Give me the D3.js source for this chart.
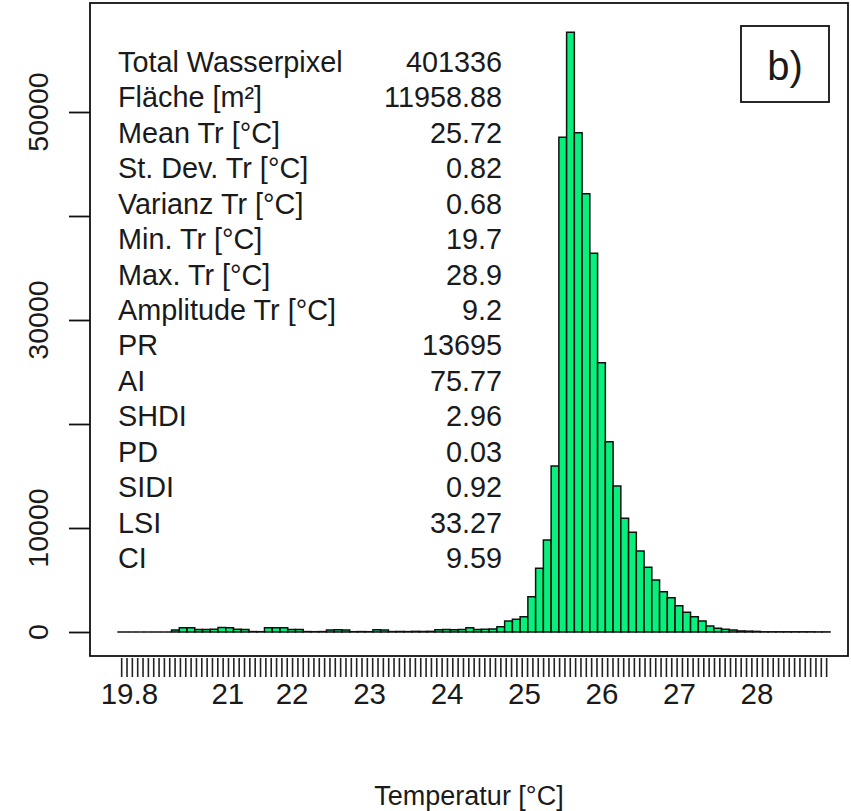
<!DOCTYPE html>
<meta charset="utf-8">
<head>
  <title>Histogram Temperatur</title>
  <script src="https://d3js.org/d3.v7.min.js"></script>
  <style>
    body { margin: 0; background: #fff; }
    svg { display: block; font-family: "Liberation Sans", Arial, sans-serif; }
  </style>
</head>
<body>
<div id="chart"></div>
<script>

// bin starts [°C], 0.1 wide
var binStart = [
  19.8, 19.9, 20.0, 20.1, 20.2, 20.3, 20.4, 20.5, 20.6, 20.7,
  20.8, 20.9, 21.0, 21.1, 21.2, 21.3, 21.4, 21.5, 21.6, 21.7,
  21.8, 21.9, 22.0, 22.1, 22.2, 22.3, 22.4, 22.5, 22.6, 22.7,
  22.8, 22.9, 23.0, 23.1, 23.2, 23.3, 23.4, 23.5, 23.6, 23.7,
  23.8, 23.9, 24.0, 24.1, 24.2, 24.3, 24.4, 24.5, 24.6, 24.7,
  24.8, 24.9, 25.0, 25.1, 25.2, 25.3, 25.4, 25.5, 25.6, 25.7,
  25.8, 25.9, 26.0, 26.1, 26.2, 26.3, 26.4, 26.5, 26.6, 26.7,
  26.8, 26.9, 27.0, 27.1, 27.2, 27.3, 27.4, 27.5, 27.6, 27.7,
  27.8, 27.9, 28.0, 28.1, 28.2, 28.3, 28.4, 28.5, 28.6, 28.7,
  28.8, 28.9
];

// pixel counts per bin
var counts = [
  0, 0, 0, 0, 0, 0, 0, 200, 420, 410,
  250, 240, 260, 430, 420, 260, 250, 40, 30, 400,
  420, 410, 250, 240, 40, 30, 40, 200, 210, 190,
  30, 40, 30, 210, 200, 40, 50, 40, 60, 50,
  60, 220, 230, 220, 240, 420, 250, 260, 300, 510,
  1060, 1220, 1470, 3400, 6130, 8850, 15960, 47570, 57660, 48010,
  42150, 36410, 25900, 18300, 14040, 10930, 9590, 7790, 6220, 5000,
  3880, 3300, 2530, 1890, 1470, 1060, 580, 350, 260, 200,
  100, 80, 60, 20, 20, 20, 20, 20, 20, 20,
  10, 10
];

var yTicks = [0, 10000, 20000, 30000, 40000, 50000];
var yLabels = ["0", "10000", "", "30000", "", "50000"];

var xLabels = ["19.8", "21", "22", "23", "24", "25", "26", "27", "28"];
var xLabelAt = [19.95, 21.22, 22.05, 23.05, 24.05, 25.05, 26.05, 27.05, 28.05];

var statNames = ["Total Wasserpixel", "Fläche [m²]", "Mean Tr [°C]", "St. Dev. Tr [°C]",
  "Varianz Tr [°C]", "Min. Tr [°C]", "Max. Tr [°C]", "Amplitude Tr [°C]",
  "PR", "AI", "SHDI", "PD", "SIDI", "LSI", "CI"];
var statValues = ["401336", "11958.88", "25.72", "0.82", "0.68", "19.7", "28.9", "9.2",
  "13695", "75.77", "2.96", "0.03", "0.92", "33.27", "9.59"];

var W = 851, H = 811;
var box = {left: 90, top: 3, right: 848, bottom: 656};

var svg = d3.select("#chart").append("svg")
  .attr("width", W)
  .attr("height", H);

var x = d3.scaleLinear().domain([19.8, 29.0]).range([117.3, 830]);
var y = d3.scaleLinear().domain([0, 50000]).range([632, 112]);

// bars (paths so that empty bins still show as a line)
svg.selectAll("path.bar")
  .data(binStart)
  .enter()
  .append("path")
    .attr("class", "bar")
    .attr("d", function(d, i) {
      var x0 = x(d), x1 = x(d + 0.1), y0 = y(0), y1 = y(counts[i]);
      return "M" + x0 + "," + y0 + "V" + y1 + "H" + x1 + "V" + y0 + "Z";
    })
    .attr("fill", "#08f07c")
    .attr("stroke", "#111")
    .attr("stroke-width", 1.5);

// frame
svg.append("rect")
  .attr("x", box.left)
  .attr("y", box.top)
  .attr("width", box.right - box.left)
  .attr("height", box.bottom - box.top)
  .attr("fill", "none")
  .attr("stroke", "#111")
  .attr("stroke-width", 1.8);

// y axis
var yAxis = svg.append("g")
  .attr("transform", "translate(" + box.left + ",0)")
  .call(d3.axisLeft(y).tickValues(yTicks).tickSize(21).tickFormat(""));
yAxis.select(".domain").remove();
yAxis.selectAll(".tick line").attr("stroke", "#111").attr("stroke-width", 1.8);

svg.selectAll("text.ylab")
  .data(yTicks)
  .enter()
  .append("text")
    .attr("class", "ylab")
    .attr("transform", function(d) { return "translate(48," + y(d) + ") rotate(-90)"; })
    .attr("text-anchor", "middle")
    .attr("font-size", 28.5)
    .attr("fill", "#1a1a1a")
    .text(function(d, i) { return yLabels[i]; });

// x axis: dense ticks below the frame
var minorTicks = d3.range(133).map(function(k) { return 19.85 + k * (28.95 - 19.85) / 132; });
var xAxis = svg.append("g")
  .attr("transform", "translate(0," + (box.bottom + 2) + ")")
  .call(d3.axisBottom(x).tickValues(minorTicks).tickSize(19).tickFormat(""));
xAxis.select(".domain").remove();
xAxis.selectAll(".tick line").attr("stroke", "#222").attr("stroke-width", 1.6);

var xLab = svg.append("g")
  .attr("transform", "translate(0,704)")
  .call(d3.axisBottom(x).tickValues(xLabelAt).tickSize(0)
    .tickFormat(function(d, i) { return xLabels[i]; }));
xLab.select(".domain").remove();
xLab.selectAll("text")
  .attr("y", 0)
  .attr("dy", 0)
  .attr("font-size", 29.5)
  .attr("font-family", "Liberation Sans, Arial, sans-serif")
  .attr("fill", "#1a1a1a");

// x title
svg.append("text")
  .attr("x", (box.left + box.right) / 2)
  .attr("y", 805)
  .attr("text-anchor", "middle")
  .attr("font-size", 27)
  .attr("fill", "#1a1a1a")
  .text("Temperatur [°C]");

// statistics table
var rowY = d3.scaleLinear().domain([0, 14]).range([72, 568]);
svg.selectAll("text.sname")
  .data(statNames)
  .enter()
  .append("text")
    .attr("class", "sname")
    .attr("x", 118)
    .attr("y", function(d, i) { return rowY(i); })
    .attr("font-size", 28.8)
    .attr("fill", "#1a1a1a")
    .text(function(d) { return d; });

svg.selectAll("text.sval")
  .data(statValues)
  .enter()
  .append("text")
    .attr("class", "sval")
    .attr("x", 502)
    .attr("y", function(d, i) { return rowY(i); })
    .attr("text-anchor", "end")
    .attr("font-size", 28.8)
    .attr("fill", "#1a1a1a")
    .text(function(d) { return d; });

// panel tag
svg.append("rect")
  .attr("x", 741).attr("y", 26)
  .attr("width", 88).attr("height", 76)
  .attr("fill", "#fff")
  .attr("stroke", "#111")
  .attr("stroke-width", 1.8);
svg.append("text")
  .attr("x", 785).attr("y", 80)
  .attr("text-anchor", "middle")
  .attr("font-size", 40)
  .attr("fill", "#1a1a1a")
  .text("b)");

</script>
</body>
